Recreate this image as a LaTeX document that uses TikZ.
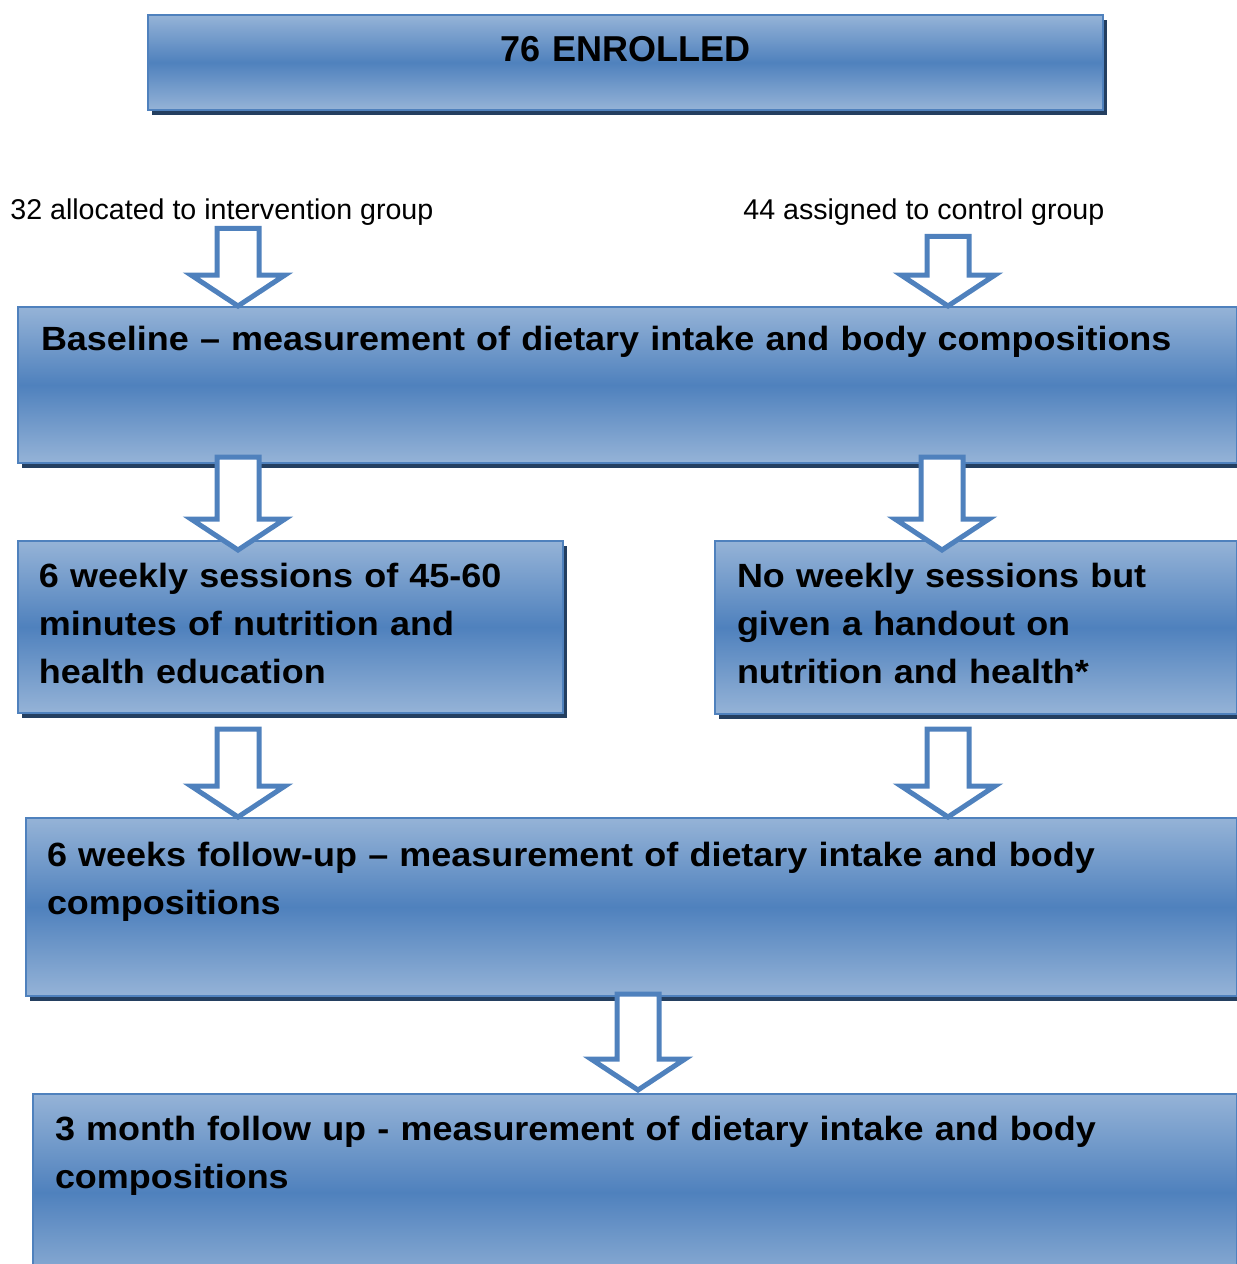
\documentclass[tikz,border=0pt]{standalone}
\usepackage{fontspec}
\setmainfont{Liberation Sans}
\newfontfamily\boxfont[FakeStretch=1.07]{Liberation Sans}
\usepackage{tikz}
\usetikzlibrary{calc, shadows, positioning}
\definecolor{boxlight}{RGB}{149, 179, 215}
\definecolor{boxblue}{RGB}{79, 129, 189}
\definecolor{shadownavy}{RGB}{36, 63, 96}

\begin{document}
\begin{tikzpicture}[
    x=0.5pt, y=-0.5pt,
    stagebox/.style={draw=boxblue, line width=1pt, top color=boxlight, bottom color=boxlight, middle color=boxblue,
        drop shadow={shadow xshift=2pt, shadow yshift=-2.5pt, fill=shadownavy, opacity=1},
        anchor=north west, inner ysep=0pt, align=left,
        font=\boxfont\bfseries\fontsize{16.8}{24}\selectfont},
    grouplabel/.style={inner sep=0pt, anchor=base west, font=\fontsize{14.3}{16}\selectfont},
    blockarrow/.style={draw=boxblue, line width=2.5pt, fill=white, line join=miter,
        to path={let \p1=(\tikztostart), \p2=(\tikztotarget) in
            (\x1-10.5pt,\y1) -- (\x1+10.5pt,\y1) -- (\x1+10.5pt,\y2+15.5pt) -- (\x1+23.5pt,\y2+15.5pt)
            -- (\x1,\y2) -- (\x1-23.5pt,\y2+15.5pt) -- (\x1-10.5pt,\y2+15.5pt) -- cycle}}
]
\useasboundingbox (0,0) rectangle (1237,1264);

% Enrolment
\node[stagebox, align=center, text width=477.5pt, inner xsep=0pt, text height=23pt, text depth=24.5pt,
    font=\bfseries\fontsize{18}{22}\selectfont] (enrol) at (147,14) {76 ENROLLED};

% Allocation
\node[grouplabel] (intlbl) at (10,219) {32 allocated to intervention group};
\node[grouplabel] (ctllbl) at (743,219) {44 assigned to control group};

% Stages
\node[stagebox, text width=586.5pt, inner xsep=11.5pt, text height=21.5pt, text depth=56.5pt] (base) at (17,306)
    {Baseline – measurement of dietary intake and body compositions};
\node[stagebox, text width=251.5pt, inner xsep=10.5pt, text height=23pt, text depth=63pt] (edu) at (17,540)
    {6 weekly sessions of 45-60\\minutes of nutrition and\\health education};
\node[stagebox, text width=239pt, inner xsep=11pt, text height=23pt, text depth=63.5pt] (handout) at (714,540)
    {No weekly sessions but\\given a handout on\\nutrition and health*};
\node[stagebox, text width=584.5pt, inner xsep=10.5pt, text height=24pt, text depth=65pt] (sixwk) at (25,817)
    {6 weeks follow-up – measurement of dietary intake and body\\compositions};
\node[stagebox, text width=580pt, inner xsep=11pt, text height=23pt, text depth=75.5pt] (threemo) at (32,1093)
    {3 month follow up - measurement of dietary intake and body\\compositions};

% Arrow columns
\coordinate (colA) at (238,0);
\coordinate (colB) at (948,0);
\coordinate (colC) at (942,0);
\coordinate (colD) at (638,0);

% Block arrows
\draw[blockarrow] ($(intlbl.south -| colA)+(0,3)$) to (base.north -| colA);
\draw[blockarrow] ($(ctllbl.south -| colB)+(0,11)$) to (base.north -| colB);
\draw[blockarrow] ($(base.south -| colA)+(0,-7)$) to ($(edu.north -| colA)+(0,10)$);
\draw[blockarrow] ($(base.south -| colC)+(0,-7)$) to ($(handout.north -| colC)+(0,10)$);
\draw[blockarrow] ($(edu.south -| colA)+(0,15)$) to (sixwk.north -| colA);
\draw[blockarrow] ($(handout.south -| colB)+(0,14)$) to (sixwk.north -| colB);
\draw[blockarrow] ($(sixwk.south -| colD)+(0,-3)$) to ($(threemo.north -| colD)+(0,-3)$);
\end{tikzpicture}
\end{document}
